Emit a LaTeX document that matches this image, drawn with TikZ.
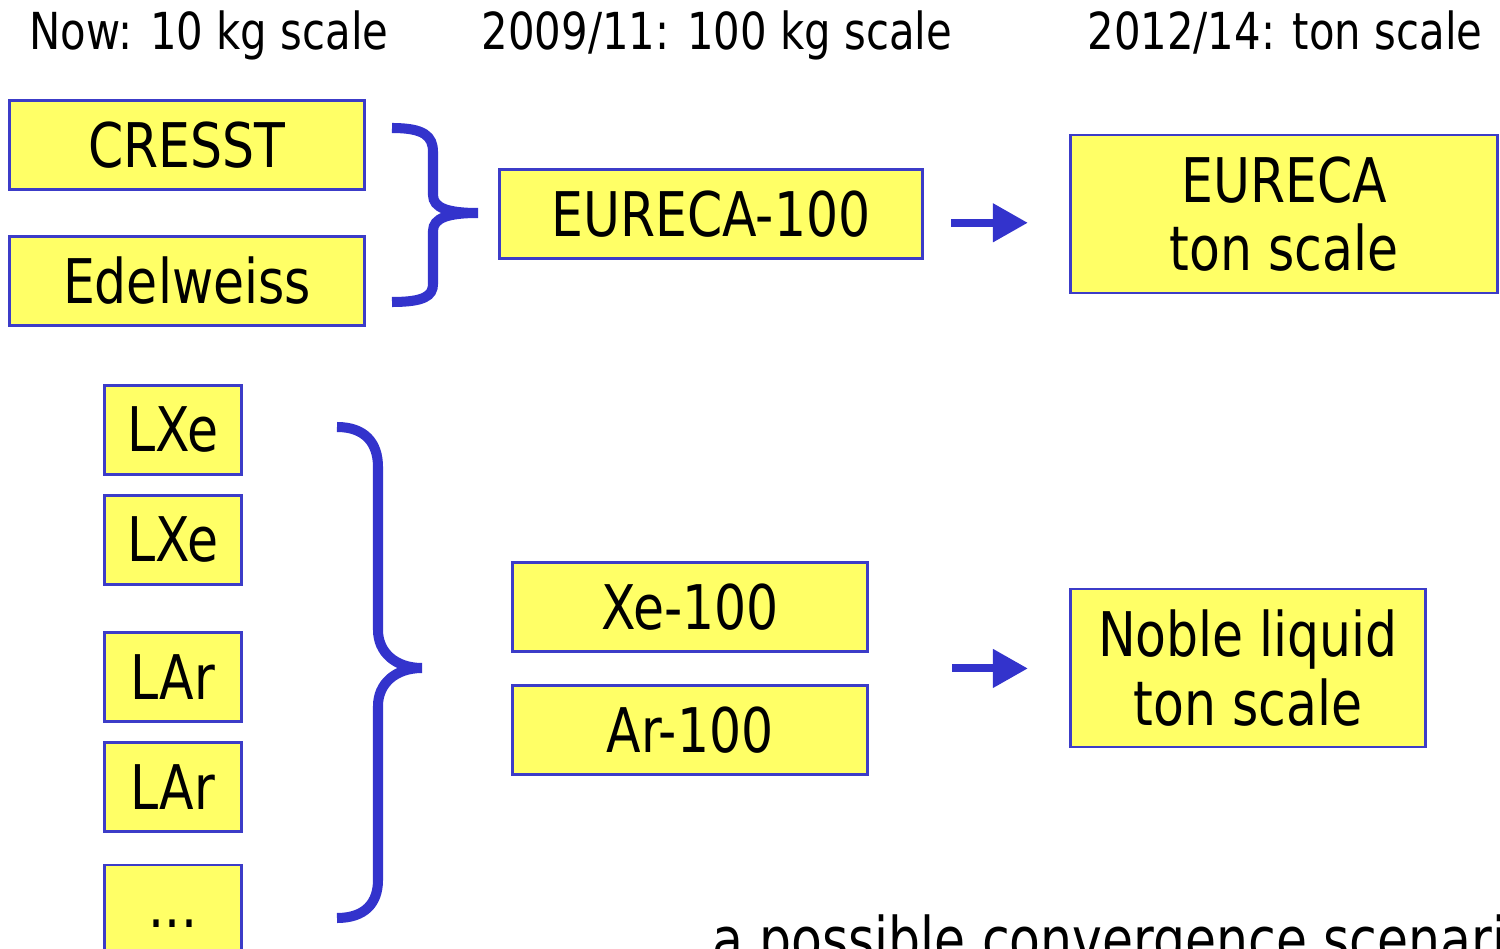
\documentclass[tikz,border=0pt]{standalone}
\usepackage{fontspec}
\setmainfont{DejaVu Sans}[FakeStretch=0.82]
\usetikzlibrary{positioning,calc,arrows.meta}
\definecolor{boxyellow}{RGB}{255,255,102}
\definecolor{edgeblue}{RGB}{60,60,200}
\definecolor{braceblue}{RGB}{51,51,204}

\begin{document}
\begin{tikzpicture}[
  x=0.01cm, y=-0.01cm,
  expt/.style={rectangle,draw=edgeblue,fill=boxyellow,line width=0.8pt,align=center,inner sep=0pt,font=\fontsize{17.5}{19.5}\selectfont},
  wide/.style={minimum width=3.55cm,minimum height=0.89cm},
  small/.style={minimum width=1.37cm,minimum height=0.89cm},
  tall/.style={minimum width=3.55cm,minimum height=1.58cm},
  head/.style={anchor=base,font=\fontsize{14.5}{17}\selectfont},
  brace/.style={draw=braceblue,line width=2.85pt},
  arr/.style={-{Triangle[length=10pt,width=10.5pt]},draw=braceblue,line width=2.3pt}
  ]
  \useasboundingbox (0,0) rectangle (1500,949);

  \node [head] (NOW) at (209,50) {Now: 10 kg scale};
  \node [head] (MID) at (717,50) {2009/11: 100 kg scale};
  \node [head] (TON) at (1285,50) {2012/14: ton scale};

  \node [expt,wide] (CRE) at (187,145) {CRESST};
  \node [expt,wide] (EDW) [below=0.44cm of CRE] {Edelweiss};
  \node [expt,wide,minimum width=4.23cm] (E100) at (711,214) {EURECA-100};
  \node [expt,tall,minimum width=4.27cm] (EUR) at (1284,214) {EURECA\\ton scale};

  \node [expt,small] (LXe1) at (173,430) {LXe};
  \node [expt,small] (LXe2) [below=0.18cm of LXe1] {LXe};
  \node [expt,small] (LAr1) [below=0.45cm of LXe2] {LAr};
  \node [expt,small] (LAr2) [below=0.18cm of LAr1] {LAr};
  \node [expt,small,minimum height=1.18cm] (ETC) [below=0.31cm of LAr2] {...};
  \node [expt,wide] (XE) at (690,607) {Xe-100};
  \node [expt,wide] (AR) [below=0.31cm of XE] {Ar-100};
  \node [expt,tall] (NOB) at (1248,668) {Noble liquid\\ton scale};
  \coordinate (LIQ) at ($(XE.south east)!0.5!(AR.north east)$);

  \node [anchor=base west,font=\fontsize{17.5}{19.5}\selectfont] (SCN) at (700,961) {a possible convergence scenario};

  \draw[brace] (392,128) .. controls (424,128) and (433,136) .. (433,152)
    -- (433,195) .. controls (433,208) and (448,213) .. (478,213)
    .. controls (448,213) and (433,218) .. (433,231)
    -- (433,284) .. controls (433,296) and (424,302) .. (392,302);
  \draw[brace] (337,427) .. controls (365,427) and (378,443) .. (378,467)
    -- (378,630) .. controls (378,652) and (395,668) .. (422,668)
    .. controls (395,668) and (378,684) .. (378,706)
    -- (378,880) .. controls (378,903) and (365,918) .. (337,918);

  \draw[arr,shorten <=0.27cm,shorten >=0.41cm] ([yshift=-2.5pt]E100.east) -- ([yshift=-2.5pt]EUR.west);
  \draw[arr,shorten <=0.83cm,shorten >=0.41cm] (LIQ) -- (NOB.west|-LIQ);
\end{tikzpicture}
\end{document}
